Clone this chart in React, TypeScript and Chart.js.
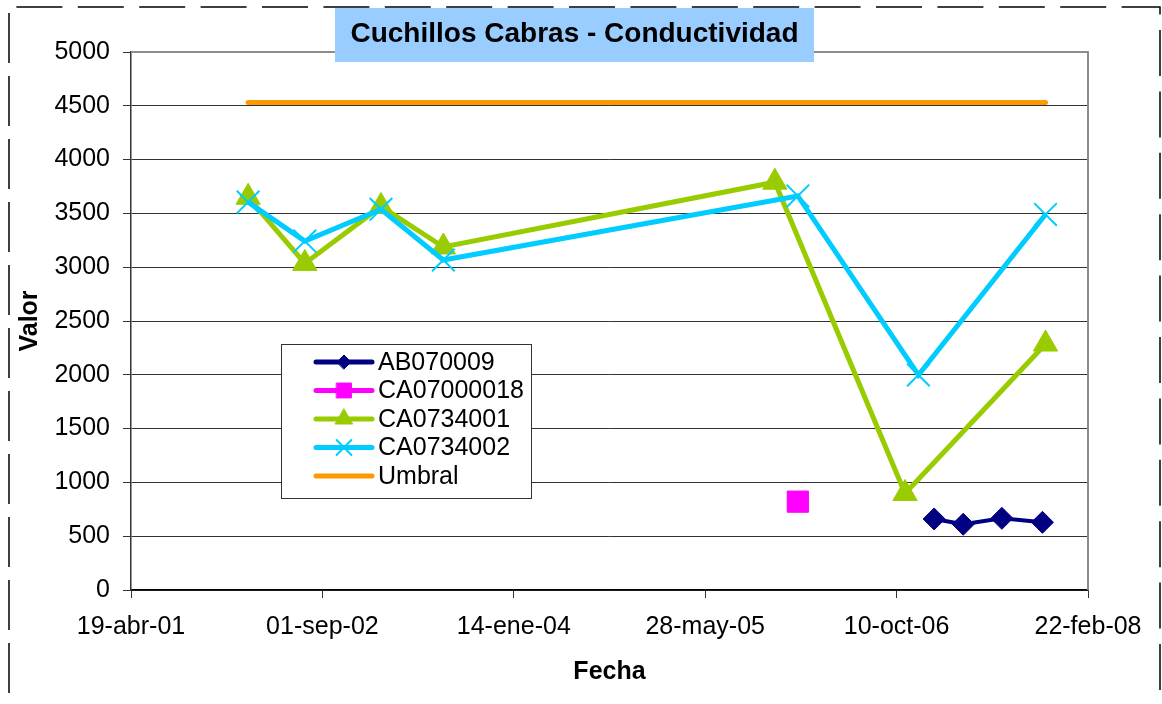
import React, { useEffect, useRef } from 'react';
import { Chart, registerables } from 'chart.js';
import { drawPoint } from 'chart.js/helpers';

Chart.register(...registerables);

const MONTHS = ['ene', 'feb', 'mar', 'abr', 'may', 'jun', 'jul', 'ago', 'sep', 'oct', 'nov', 'dic'];
const X_START = '2001-04-19';
const X_STEP_DAYS = 500;
const X_STEPS = 5;
const Y_MIN = 0;
const Y_MAX = 5000;
const Y_STEP = 500;

const TITLE = 'Cuchillos Cabras - Conductividad';
const X_TITLE = 'Fecha';
const Y_TITLE = 'Valor';

const SERIES_NAMES = ['AB070009', 'CA07000018', 'CA0734001', 'CA0734002', 'Umbral'];

const AB070009_DATES = ['2007-01-16', '2007-04-02', '2007-07-12', '2007-10-26'];
const AB070009_VALUES = [660, 611, 666, 629];

const CA07000018_DATES = ['2006-01-25'];
const CA07000018_VALUES = [821];

const CA0734001_DATES = ['2002-02-19', '2002-07-17', '2003-02-01', '2003-07-14', '2005-11-26', '2006-11-01', '2007-11-03'];
const CA0734001_VALUES = [3650, 3035, 3565, 3188, 3790, 897, 2286];

const CA0734002_DATES = ['2002-02-19', '2002-07-17', '2003-02-01', '2003-07-14', '2006-01-25', '2006-12-06', '2007-11-03'];
const CA0734002_VALUES = [3605, 3243, 3538, 3067, 3662, 1998, 3490];

const UMBRAL_DATES = ['2002-02-19', '2007-11-03'];
const UMBRAL_VALUES = [4530, 4530];

const FONT = '"Liberation Sans", Arial, sans-serif';

function toDay(s: string): number {
  const [y, m, d] = s.split('-').map(Number);
  return Date.UTC(y, m - 1, d) / 86400000;
}

function formatDay(n: number): string {
  const dt = new Date(Math.round(n) * 86400000);
  const d = String(dt.getUTCDate()).padStart(2, '0');
  const yy = String(dt.getUTCFullYear() % 100).padStart(2, '0');
  return `${d}-${MONTHS[dt.getUTCMonth()]}-${yy}`;
}

function pts(dates: string[], values: number[]) {
  return dates.map((d, i) => ({ x: toDay(d), y: values[i] }));
}

const legendMarkers: Record<string, { style: string; radius: number; bw: number }> = {
  AB070009: { style: 'rectRot', radius: 7, bw: 1 },
  CA07000018: { style: 'rect', radius: 10.5, bw: 1 },
  CA0734001: { style: 'triangle', radius: 10, bw: 1 },
  CA0734002: { style: 'crossRot', radius: 10.5, bw: 2 },
  Umbral: { style: '', radius: 0, bw: 0 },
};

const decorPlugin = {
  id: 'decor',
  beforeDraw(chart: any) {
    const { ctx, width, height } = chart;
    ctx.save();
    ctx.fillStyle = '#ffffff';
    ctx.fillRect(0, 0, width, height);
    ctx.restore();
  },
  beforeDatasetsDraw(chart: any) {
    const { ctx, chartArea } = chart;
    ctx.save();
    ctx.strokeStyle = '#8c8c8c';
    ctx.lineWidth = 2;
    ctx.beginPath();
    ctx.moveTo(chartArea.left, chartArea.top);
    ctx.lineTo(chartArea.right, chartArea.top);
    ctx.lineTo(chartArea.right, chartArea.bottom);
    ctx.stroke();
    ctx.restore();
  },
  afterDraw(chart: any) {
    const { ctx } = chart;
    // dashed outer frame
    ctx.save();
    ctx.strokeStyle = '#000000';
    ctx.lineWidth = 1.5;
    ctx.setLineDash([46, 15.4]);
    ctx.lineDashOffset = 54;
    ctx.beginPath();
    ctx.moveTo(9, 7);
    ctx.lineTo(1160, 7);
    ctx.lineTo(1160, 720);
    ctx.stroke();
    ctx.setLineDash([50, 13]);
    ctx.lineDashOffset = 0;
    ctx.beginPath();
    ctx.moveTo(9, 13);
    ctx.lineTo(9, 720);
    ctx.stroke();
    ctx.restore();

    // title box
    ctx.save();
    ctx.fillStyle = '#99CCFF';
    ctx.fillRect(335, 8, 479, 54);
    ctx.fillStyle = '#000000';
    ctx.font = `bold 28px ${FONT}`;
    ctx.textAlign = 'center';
    ctx.textBaseline = 'middle';
    ctx.fillText(TITLE, 574.5, 34);
    ctx.restore();

    // legend
    const bx = 281, by = 344, bw = 250, bh = 154;
    ctx.save();
    ctx.fillStyle = '#ffffff';
    ctx.fillRect(bx, by, bw, bh);
    ctx.strokeStyle = '#333333';
    ctx.lineWidth = 1;
    ctx.strokeRect(bx + 0.5, by + 0.5, bw, bh);
    chart.data.datasets.forEach((ds: any, i: number) => {
      const y = 362 + i * 28.5;
      ctx.save();
      ctx.strokeStyle = ds.borderColor;
      ctx.lineWidth = 5;
      ctx.lineCap = 'round';
      ctx.beginPath();
      ctx.moveTo(316, y);
      ctx.lineTo(372, y);
      ctx.stroke();
      const mk = legendMarkers[ds.label];
      if (mk && mk.style) {
        ctx.fillStyle = ds.pointBackgroundColor;
        ctx.strokeStyle = ds.pointBorderColor;
        ctx.lineWidth = mk.bw;
        drawPoint(ctx, { pointStyle: mk.style as any, radius: mk.radius, rotation: 0, borderWidth: mk.bw }, 344, y);
      }
      ctx.restore();
      ctx.fillStyle = '#000000';
      ctx.font = `25px ${FONT}`;
      ctx.textAlign = 'left';
      ctx.textBaseline = 'middle';
      ctx.fillText(ds.label, 378, y + 1);
    });
    ctx.restore();
  },
};

export default function App() {
  const ref = useRef<HTMLCanvasElement | null>(null);

  useEffect(() => {
    if (!ref.current) return;
    const xMin = toDay(X_START);
    const xMax = xMin + X_STEP_DAYS * X_STEPS;
    const chart = new Chart(ref.current, {
      type: 'line',
      data: {
        datasets: [
          {
            label: SERIES_NAMES[0],
            data: pts(AB070009_DATES, AB070009_VALUES),
            borderColor: '#000080',
            backgroundColor: '#000080',
            pointBackgroundColor: '#000080',
            pointBorderColor: '#000080',
            borderWidth: 4,
            pointStyle: 'rectRot',
            pointRadius: 11,
            pointBorderWidth: 1,
            order: 4,
          },
          {
            label: SERIES_NAMES[1],
            data: pts(CA07000018_DATES, CA07000018_VALUES),
            borderColor: '#FF00FF',
            backgroundColor: '#FF00FF',
            pointBackgroundColor: '#FF00FF',
            pointBorderColor: '#FF00FF',
            borderWidth: 4,
            pointStyle: 'rect',
            pointRadius: 15,
            pointBorderWidth: 1,
            order: 3,
          },
          {
            label: SERIES_NAMES[2],
            data: pts(CA0734001_DATES, CA0734001_VALUES),
            borderColor: '#99CC00',
            backgroundColor: '#99CC00',
            pointBackgroundColor: '#99CC00',
            pointBorderColor: '#99CC00',
            borderWidth: 5,
            pointStyle: 'triangle',
            pointRadius: 14,
            pointBorderWidth: 1,
            order: 2,
          },
          {
            label: SERIES_NAMES[3],
            data: pts(CA0734002_DATES, CA0734002_VALUES),
            borderColor: '#00CCFF',
            backgroundColor: '#00CCFF',
            pointBackgroundColor: '#00CCFF',
            pointBorderColor: '#00CCFF',
            borderWidth: 5,
            pointStyle: 'crossRot',
            pointRadius: 16,
            pointBorderWidth: 2,
            order: 1,
          },
          {
            label: SERIES_NAMES[4],
            data: pts(UMBRAL_DATES, UMBRAL_VALUES),
            borderColor: '#FF9900',
            backgroundColor: '#FF9900',
            pointBackgroundColor: '#FF9900',
            pointBorderColor: '#FF9900',
            borderWidth: 5,
            borderCapStyle: 'round',
            pointRadius: 0,
            order: 0,
          },
        ],
      },
      options: {
        animation: false,
        responsive: false,
        devicePixelRatio: 1,
        layout: { padding: { left: 0, top: 52, right: 74, bottom: 0 } },
        plugins: {
          legend: { display: false },
          title: { display: false },
          tooltip: { enabled: false },
        },
        elements: { line: { tension: 0 } },
        scales: {
          x: {
            type: 'linear',
            min: xMin,
            max: xMax,
            afterFit: (s: any) => { s.height = 114; },
            ticks: {
              stepSize: X_STEP_DAYS,
              callback: (v: any) => formatDay(Number(v)),
              color: '#000000',
              font: { family: FONT, size: 25 },
              padding: 14,
              maxRotation: 0,
              autoSkip: false,
            },
            grid: { drawOnChartArea: false, drawTicks: true, tickLength: 8, color: '#333333' },
            border: { display: true, color: '#000000', width: 1.5 },
            title: {
              display: true,
              text: X_TITLE,
              color: '#000000',
              font: { family: FONT, size: 25, weight: 'bold' },
              padding: { top: 0, bottom: 17 },
            },
          },
          y: {
            type: 'linear',
            min: Y_MIN,
            max: Y_MAX,
            afterFit: (s: any) => { s.width = 131; },
            ticks: {
              stepSize: Y_STEP,
              callback: (v: any) => String(v),
              color: '#000000',
              font: { family: FONT, size: 25 },
              padding: 13,
            },
            grid: { color: '#333333', lineWidth: 1, tickLength: 8 },
            border: { display: true, color: '#333333', width: 1.5 },
            title: {
              display: true,
              text: Y_TITLE,
              color: '#000000',
              font: { family: FONT, size: 25, weight: 'bold' },
              padding: { top: 15, bottom: 0 },
            },
          },
        },
      },
      plugins: [decorPlugin],
    });
    return () => chart.destroy();
  }, []);

  return (
    <div style={{ position: 'absolute', left: 0, top: 0, width: 1162, height: 704 }}>
      <canvas ref={ref} width={1162} height={704} style={{ display: 'block', width: 1162, height: 704 }} />
    </div>
  );
}
